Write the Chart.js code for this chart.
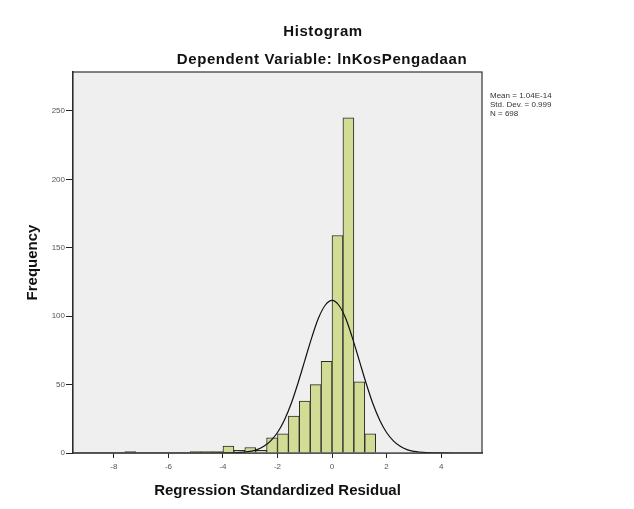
<!DOCTYPE html>
<html>
<head>
<meta charset="utf-8">
<script src="https://cdn.jsdelivr.net/npm/chart.js@4.4.1/dist/chart.umd.min.js"></script>
<style>
html,body{margin:0;padding:0;background:#fff;}
#wrap{width:634px;height:509px;}
</style>
</head>
<body>
<div id="wrap"><canvas id="c" width="634" height="509"></canvas></div>
<script>
// ---- data ----
const binCenters = [-7.4, -5.0, -4.6, -4.2, -3.8, -3.4, -3.0, -2.6, -2.2, -1.8, -1.4, -1.0, -0.6, -0.2, 0.2, 0.6, 1.0, 1.4];
const binCounts  = [1, 1, 1, 1, 5, 2, 4, 2, 11, 14, 27, 38, 50, 67, 159, 245, 52, 14];
const curveX = [-9.5, -5, -4.5, -4, -3.5, -3, -2.75, -2.5, -2.25, -2, -1.75, -1.5, -1.25, -1, -0.75, -0.5, -0.25, 0, 0.25, 0.5, 0.75, 1, 1.25, 1.5, 1.75, 2, 2.25, 2.5, 2.75, 3, 3.5, 4, 4.5, 5, 5.5];
const curveY = [0, 0, 0, 0.05, 0.25, 1.2, 2.5, 4.9, 8.9, 15, 24, 36, 51, 67.5, 84, 98.5, 108, 111.5, 108, 98.5, 84, 67.5, 51, 36, 24, 15, 8.9, 4.9, 2.5, 1.2, 0.25, 0.05, 0, 0, 0];
const xTicks = [-8, -6, -4, -2, 0, 2, 4];
const yTicks = [0, 50, 100, 150, 200, 250];
const statLines = ["Mean = 1.04E-14", "Std. Dev. = 0.999", "N = 698"];
const titleText = "Histogram";
const subtitleText = "Dependent Variable: lnKosPengadaan";
const xTitle = "Regression Standardized Residual";
const yTitle = "Frequency";

const FONT = "'Liberation Sans', Arial, sans-serif";

const bgFrame = {
  id: 'bgFrame',
  beforeDatasetsDraw(chart) {
    const {ctx, chartArea: a} = chart;
    ctx.save();
    ctx.fillStyle = '#efefef';
    ctx.fillRect(a.left, a.top, a.right - a.left, a.bottom - a.top);
    ctx.restore();
  },
  afterDraw(chart) {
    const {ctx, chartArea: a, width} = chart;
    ctx.save();
    ctx.strokeStyle = '#333';
    ctx.lineWidth = 1.2;
    ctx.strokeRect(a.left, a.top, a.right - a.left, a.bottom - a.top);
    // titles centred on the full canvas
    ctx.fillStyle = '#111';
    ctx.textAlign = 'center';
    ctx.textBaseline = 'middle';
    ctx.letterSpacing = '0.6px';
    ctx.font = "bold 15px " + FONT;
    ctx.fillText(titleText, width / 2 + 6, a.top - 40);
    ctx.fillText(subtitleText, width / 2 + 5, a.top - 12);
    ctx.letterSpacing = '0px';
    // statistics box
    ctx.fillStyle = '#333';
    ctx.textAlign = 'left';
    ctx.font = "8px " + FONT;
    statLines.forEach((t, i) => ctx.fillText(t, a.right + 8, a.top + 24 + i * 9));
    ctx.restore();
  }
};

new Chart(document.getElementById('c'), {
  data: {
    datasets: [
      {
        type: 'line',
        data: curveX.map((x, i) => ({x, y: curveY[i]})),
        borderColor: '#111',
        borderWidth: 1.2,
        pointRadius: 0,
        cubicInterpolationMode: 'monotone',
        fill: false,
        order: 0
      },
      {
        type: 'bar',
        data: binCenters.map((x, i) => ({x, y: binCounts[i]})),
        backgroundColor: '#d3dc94',
        borderColor: '#2a2a2a',
        borderWidth: 1,
        barPercentage: 1,
        categoryPercentage: 1,
        order: 1
      }
    ]
  },
  options: {
    responsive: false,
    animation: false,
    devicePixelRatio: 1,
    layout: {padding: {left: 0, right: 152, top: 72, bottom: 0}},
    plugins: {
      legend: {display: false},
      tooltip: {enabled: false},
      title: {display: false},
      subtitle: {display: false}
    },
    scales: {
      x: {
        type: 'linear',
        offset: false,
        min: -9.5, max: 5.5,
        afterBuildTicks: s => { s.ticks = xTicks.map(v => ({value: v})); },
        afterFit: s => { s.height = 56; },
        grid: {display: true, offset: false, drawOnChartArea: false, drawTicks: true, tickLength: 5, color: '#222', tickWidth: 1},
        border: {display: true, color: '#222', width: 1.5},
        ticks: {color: '#555', font: {family: FONT, size: 8}, padding: 4},
        title: {display: true, text: xTitle, color: '#111', font: {family: FONT, size: 15, weight: 'bold'}, padding: {top: 4, bottom: 9}}
      },
      y: {
        type: 'linear',
        min: 0, max: 278.5,
        afterBuildTicks: s => { s.ticks = yTicks.map(v => ({value: v})); },
        afterFit: s => { s.width = 73; },
        grid: {display: true, drawOnChartArea: false, drawTicks: true, tickLength: 7, color: '#222', tickWidth: 1},
        border: {display: true, color: '#222', width: 1.5},
        ticks: {color: '#555', font: {family: FONT, size: 8}, padding: 1},
        title: {display: true, text: yTitle, color: '#111', font: {family: FONT, size: 15, weight: 'bold'}, padding: {top: 24, bottom: 4}}
      }
    }
  },
  plugins: [bgFrame]
});
</script>
</body>
</html>
